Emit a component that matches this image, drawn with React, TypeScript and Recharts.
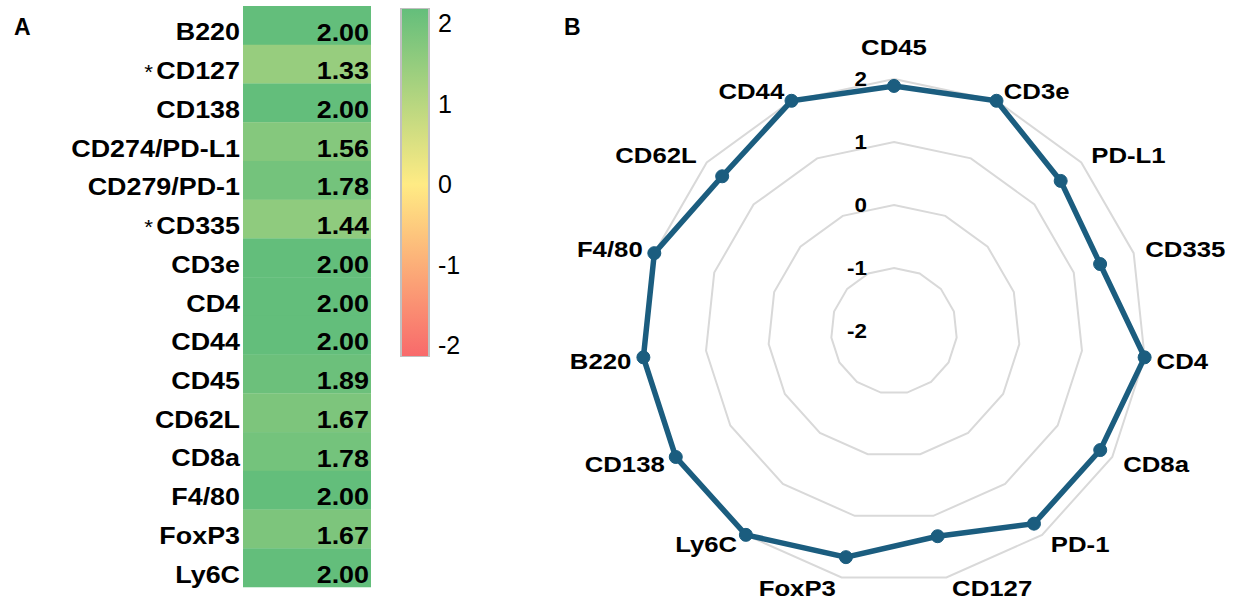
import React from "react";
import {
  BarChart,
  Bar,
  XAxis,
  YAxis,
  RadarChart,
  Radar,
  PolarGrid,
  PolarAngleAxis,
  PolarRadiusAxis,
} from "recharts";

// panel A rows (top to bottom)
const heatmapMarkers = [
  "B220",
  "*CD127",
  "CD138",
  "CD274/PD-L1",
  "CD279/PD-1",
  "*CD335",
  "CD3e",
  "CD4",
  "CD44",
  "CD45",
  "CD62L",
  "CD8a",
  "F4/80",
  "FoxP3",
  "Ly6C",
];
const heatmapScores = [
  2.0, 1.33, 2.0, 1.56, 1.78, 1.44, 2.0, 2.0, 2.0, 1.89, 1.67, 1.78, 2.0, 1.67,
  2.0,
];

// panel B spokes, clockwise from the top
const radarMarkers = [
  "CD45",
  "CD3e",
  "PD-L1",
  "CD335",
  "CD4",
  "CD8a",
  "PD-1",
  "CD127",
  "FoxP3",
  "Ly6C",
  "CD138",
  "B220",
  "F4/80",
  "CD62L",
  "CD44",
];
const radarScores = [
  1.89, 2.0, 1.56, 1.44, 2.0, 1.78, 1.78, 1.33, 1.67, 2.0, 2.0, 2.0, 2.0, 1.67,
  2.0,
];

const scaleTicks = [-2, -1, 0, 1, 2];
const scaleRange: [number, number] = [-2.15, 2.19];

const heatData = heatmapMarkers.map((marker, i) => ({
  marker,
  score: heatmapScores[i],
}));
const radarData = radarMarkers.map((marker, i) => ({
  marker,
  score: radarScores[i],
}));
const scaleData = [{ name: "scale", range: scaleRange }];

const FONT = "'Liberation Sans', Arial, sans-serif";
const STRETCH = 1.12;
const LINE = "#1b5d7f";
const RADAR_CY = 331;

const LOW = [248, 105, 107];
const MID = [255, 235, 132];
const HIGH = [99, 190, 123];

const scoreColor = (v: number) => {
  const t = Math.max(-1, Math.min(1, v / 2));
  const to = t >= 0 ? HIGH : LOW;
  const k = Math.abs(t);
  const c = MID.map((f, i) => Math.round(f + (to[i] - f) * k));
  return `rgb(${c[0]},${c[1]},${c[2]})`;
};

const StretchText = ({ x, y, anchor, size, bold, children, baseline }: any) => (
  <text
    transform={`translate(${x},${y}) scale(${STRETCH},1)`}
    textAnchor={anchor}
    dominantBaseline={baseline}
    fontSize={size}
    fontWeight={bold ? "bold" : "normal"}
    fontFamily={FONT}
    fill="#000"
  >
    {children}
  </text>
);

const HeatCell = (props: any) => {
  const { x, y, width, height, background, payload } = props;
  const bx = background ? background.x : x;
  const bw = background ? background.width : width;
  return (
    <g>
      <rect x={bx} y={y} width={bw} height={height} fill={scoreColor(payload.score)} />
      <StretchText x={bx + bw - 2} y={y + height / 2 + 15} anchor="end" size={24} bold>
        {payload.score.toFixed(2)}
      </StretchText>
    </g>
  );
};

const HeatTick = ({ x, y, payload }: any) => {
  const label: string = payload.value;
  const starred = label.startsWith("*");
  return (
    <StretchText x={x} y={y + 15} anchor="end" size={24} bold>
      {starred ? (
        <>
          <tspan fontWeight="normal" fontSize={20}>*</tspan>
          <tspan dx={3}>{label.slice(1)}</tspan>
        </>
      ) : (
        label
      )}
    </StretchText>
  );
};

const ScaleTick = ({ x, y, payload }: any) => (
  <text
    x={x}
    y={y}
    textAnchor="start"
    dominantBaseline="central"
    fontSize={25}
    fontFamily={FONT}
    fill="#000"
  >
    {payload.value}
  </text>
);

const AngleTick = ({ x, y, payload, textAnchor }: any) => {
  let dx = 0;
  let dy = 0;
  if (textAnchor === "start") dx = 4;
  if (textAnchor === "end") dx = -4;
  if (textAnchor === "middle") dy = y < RADAR_CY ? -24 : 24;
  else if (y > RADAR_CY + 5) dy = 3;
  else dy = -2;
  return (
    <StretchText
      x={x + dx}
      y={y + dy}
      anchor={textAnchor}
      size={23}
      bold
      baseline="central"
    >
      {payload.value}
    </StretchText>
  );
};

const RadiusTick = ({ x, y, payload }: any) => (
  <StretchText x={x - 27} y={y} anchor="end" size={20} bold baseline="central">
    {payload.value}
  </StretchText>
);

const zeroAt = scaleRange[1] / (scaleRange[1] - scaleRange[0]);

export default function App() {
  return (
    <div
      style={{
        position: "absolute",
        left: 0,
        top: 0,
        width: 1237,
        height: 605,
        background: "#fff",
        fontFamily: FONT,
      }}
    >
      <div style={{ position: "absolute", left: 0, top: 0 }}>
        <BarChart
          width={380}
          height={605}
          data={heatData}
          layout="vertical"
          margin={{ top: 6, right: 9, bottom: 18, left: 0 }}
          barCategoryGap={0}
        >
          <XAxis type="number" domain={[0, 2]} hide />
          <YAxis
            type="category"
            dataKey="marker"
            width={243}
            axisLine={false}
            tickLine={false}
            tickSize={0}
            tickMargin={3}
            interval={0}
            tick={<HeatTick />}
          />
          <Bar dataKey="score" shape={<HeatCell />} isAnimationActive={false} />
        </BarChart>
      </div>

      <div style={{ position: "absolute", left: 390, top: 0 }}>
        <BarChart
          width={100}
          height={370}
          data={scaleData}
          margin={{ top: 8, right: 0, bottom: 13, left: 11 }}
          barCategoryGap={0}
        >
          <defs>
            <linearGradient id="scaleGrad" x1="0" y1="0" x2="0" y2="1">
              <stop offset="0" stopColor={scoreColor(2)} />
              <stop offset={zeroAt} stopColor={scoreColor(0)} />
              <stop offset="1" stopColor={scoreColor(-2)} />
            </linearGradient>
          </defs>
          <XAxis dataKey="name" hide />
          <YAxis
            type="number"
            orientation="right"
            domain={scaleRange}
            ticks={scaleTicks}
            allowDataOverflow
            width={61}
            axisLine={false}
            tickLine={false}
            tickSize={0}
            tickMargin={9}
            tick={<ScaleTick />}
          />
          <Bar
            dataKey="range"
            fill="url(#scaleGrad)"
            stroke="#c0c0c0"
            strokeWidth={2}
            isAnimationActive={false}
          />
        </BarChart>
      </div>

      <div style={{ position: "absolute", left: 530, top: 0 }}>
        <RadarChart
          width={707}
          height={605}
          data={radarData}
          cx={364}
          cy={RADAR_CY}
          outerRadius={252}
          margin={{ top: 0, right: 0, bottom: 0, left: 0 }}
        >
          <PolarGrid gridType="polygon" radialLines={false} stroke="#d9d9d9" strokeWidth={2} />
          <PolarAngleAxis
            dataKey="marker"
            axisLine={false}
            tickLine={false}
            tick={<AngleTick />}
          />
          <PolarRadiusAxis
            angle={90}
            domain={[-2, 2]}
            tickCount={5}
            axisLine={false}
            tickLine={false}
            tick={<RadiusTick />}
          />
          <Radar
            dataKey="score"
            stroke={LINE}
            strokeWidth={5.5}
            fill="none"
            fillOpacity={0}
            dot={{ r: 6.5, fill: LINE, stroke: LINE, strokeWidth: 1, fillOpacity: 1 }}
            isAnimationActive={false}
          />
        </RadarChart>
      </div>

      <div style={{ position: "absolute", left: 14, top: 14, fontSize: 23, fontWeight: "bold" }}>
        A
      </div>
      <div style={{ position: "absolute", left: 564, top: 14, fontSize: 23, fontWeight: "bold" }}>
        B
      </div>
    </div>
  );
}
